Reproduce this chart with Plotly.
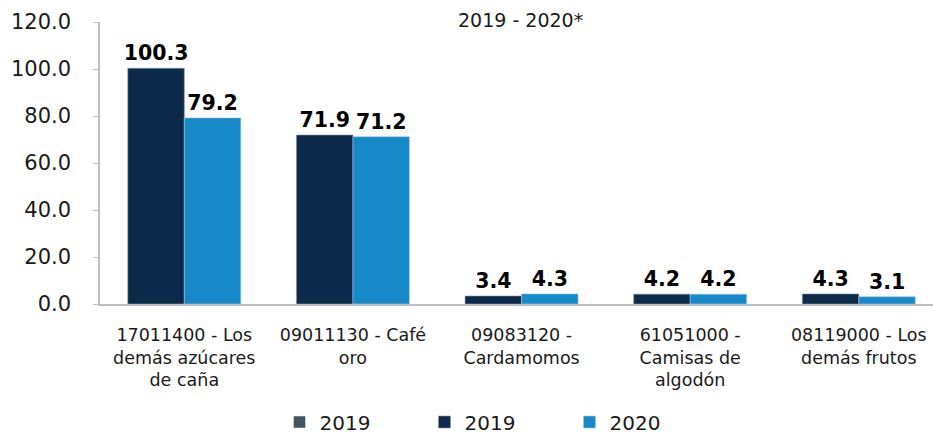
import plotly.graph_objects as go

# ---------------------------------------------------------------
# Data
# ---------------------------------------------------------------
categories = [
    "17011400 - Los<br>demás azúcares<br>de caña",
    "09011130 - Café<br>oro",
    "09083120 -<br>Cardamomos",
    "61051000 -<br>Camisas de<br>algodón",
    "08119000 - Los<br>demás frutos",
]
values_2019_empty = [None, None, None, None, None]
values_2019 = [100.3, 71.9, 3.4, 4.2, 4.3]
values_2020 = [79.2, 71.2, 4.3, 4.2, 3.1]
y_ticks = [0, 20, 40, 60, 80, 100, 120]

pal = {
    "grey": "#44545f",
    "navy": "#0d2a4b",
    "blue": "#1788c8",
    "axis": "#bfbfbf",
    "text": "#1a1a1a",
}
font_family = "DejaVu Sans, sans-serif"
label_font = dict(size=20.5, color="#000000", family=font_family, weight="bold")

fig = go.Figure()

# Empty 2019 series only shows in the legend (shares slot with navy bars)
fig.add_trace(go.Bar(
    x=categories, y=values_2019_empty, name="2019",
    marker_color=pal["grey"], offsetgroup="a",
))
fig.add_trace(go.Bar(
    x=categories, y=values_2019, name="2019",
    marker=dict(color=pal["navy"], line=dict(color="#8a96a3", width=0.6)),
    offsetgroup="a",
    text=[f"{v:.1f}" for v in values_2019], textposition="outside",
    textfont=label_font, constraintext="none", cliponaxis=False,
))
fig.add_trace(go.Bar(
    x=categories, y=values_2020, name="2020",
    marker=dict(color=pal["blue"], line=dict(color="#9cc9e6", width=0.6)),
    offsetgroup="b",
    text=[f"{v:.1f}" for v in values_2020], textposition="outside",
    textfont=label_font, constraintext="none", cliponaxis=False,
))

# plot area: x 100..933, y 22..304 (pixels)
fig.update_layout(
    width=933,
    height=435,
    barmode="group",
    bargap=0.33,
    bargroupgap=0,
    plot_bgcolor="white",
    paper_bgcolor="white",
    font=dict(family=font_family, color=pal["text"]),
    margin=dict(l=100, r=0, t=22, b=131, autoexpand=False),
    legend=dict(
        orientation="h", x=(497 - 100) / 833, xanchor="center",
        y=-(422 - 304) / 282, yanchor="middle",
        font=dict(size=20), itemwidth=30, entrywidth=100, traceorder="normal",
    ),
    annotations=[dict(
        text="2019 - 2020*", x=(520 - 100) / 833, xref="paper",
        y=(304 - 20) / 282, yref="paper", xanchor="center", yanchor="middle",
        showarrow=False, font=dict(size=19),
    )],
)

fig.update_xaxes(
    range=[-0.5, 4.44],
    showline=True, linecolor=pal["axis"], linewidth=1.5,
    ticks="", tickfont=dict(size=17.5), ticklabelstandoff=14, automargin=False,
)
fig.update_yaxes(
    range=[0, 120],
    tickvals=y_ticks, tickformat=".1f",
    showgrid=False, zeroline=False,
    showline=True, linecolor=pal["axis"], linewidth=1.5,
    ticks="outside", ticklen=5, tickcolor=pal["axis"],
    tickfont=dict(size=21), ticklabelstandoff=18, automargin=False,
)

# drop the default page margin so the figure sits at the window corner
fig.write_html(
    "out.html",
    config={"displayModeBar": False},
    post_script="document.body.style.margin='0';",
)
